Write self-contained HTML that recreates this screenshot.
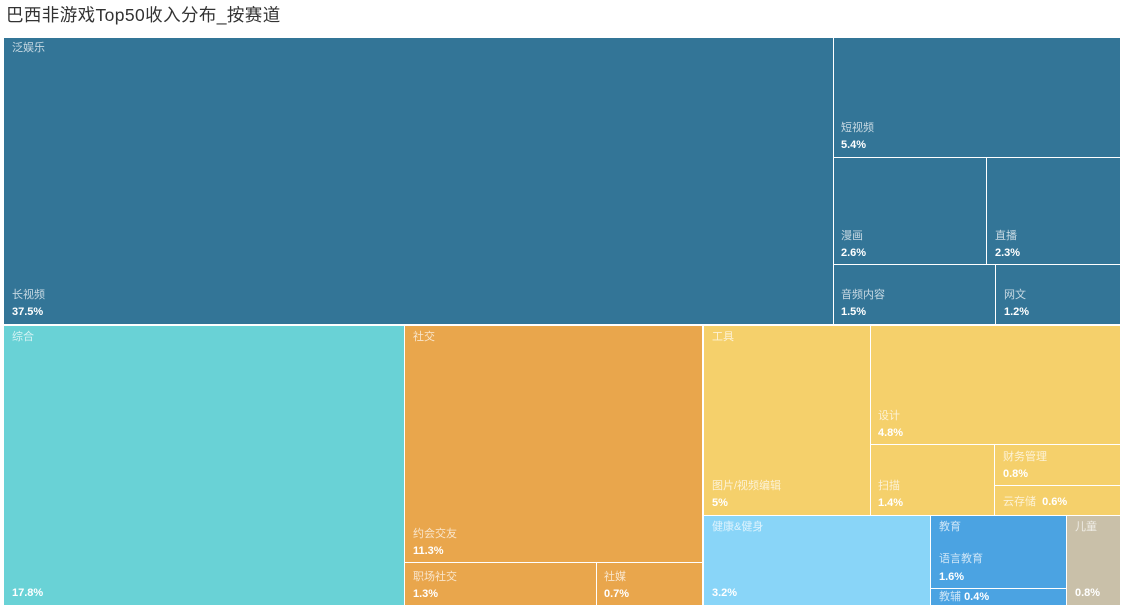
<!DOCTYPE html>
<html>
<head>
<meta charset="utf-8">
<style>
html,body{margin:0;padding:0;background:#fff;}
body{width:1125px;height:609px;position:relative;overflow:hidden;font-family:"Liberation Sans","Noto Sans CJK SC",sans-serif;}
.title{position:absolute;left:6px;top:4px;font-size:17.5px;line-height:22px;color:#333;letter-spacing:0.4px;}
.r{position:absolute;box-sizing:border-box;}
.t{position:absolute;font-size:11px;line-height:14px;white-space:nowrap;}
.n{color:rgba(255,255,255,0.72);}
.v{color:#fff;font-weight:bold;}
.g{color:rgba(255,255,255,0.72);}
</style>
</head>
<body>
<div class="title">巴西非游戏Top50收入分布_按赛道</div>

<!-- 泛娱乐 -->
<div class="r" style="left:4px;top:38px;width:829px;height:286px;background:#337597;"></div>
<div class="r" style="left:834px;top:38px;width:286px;height:119px;background:#337597;"></div>
<div class="r" style="left:834px;top:158px;width:152px;height:106px;background:#337597;"></div>
<div class="r" style="left:987px;top:158px;width:133px;height:106px;background:#337597;"></div>
<div class="r" style="left:834px;top:265px;width:161px;height:59px;background:#337597;"></div>
<div class="r" style="left:996px;top:265px;width:124px;height:59px;background:#337597;"></div>

<!-- 综合 -->
<div class="r" style="left:4px;top:326px;width:400px;height:279px;background:#69d2d6;"></div>

<!-- 社交 -->
<div class="r" style="left:405px;top:326px;width:297px;height:236px;background:#e9a64c;"></div>
<div class="r" style="left:405px;top:563px;width:191px;height:42px;background:#e9a64c;"></div>
<div class="r" style="left:597px;top:563px;width:105px;height:42px;background:#e9a64c;"></div>

<!-- 工具 -->
<div class="r" style="left:704px;top:326px;width:166px;height:189px;background:#f5d06b;"></div>
<div class="r" style="left:871px;top:326px;width:249px;height:118px;background:#f5d06b;"></div>
<div class="r" style="left:871px;top:445px;width:123px;height:70px;background:#f5d06b;"></div>
<div class="r" style="left:995px;top:445px;width:125px;height:40px;background:#f5d06b;"></div>
<div class="r" style="left:995px;top:486px;width:125px;height:29px;background:#f5d06b;"></div>

<!-- 健康&健身 -->
<div class="r" style="left:704px;top:516px;width:226px;height:89px;background:#89d5f8;"></div>
<!-- 教育 -->
<div class="r" style="left:931px;top:516px;width:135px;height:72px;background:#4ba3e2;"></div>
<div class="r" style="left:931px;top:589px;width:135px;height:16px;background:#4ba3e2;"></div>
<!-- 儿童 -->
<div class="r" style="left:1067px;top:516px;width:53px;height:89px;background:#c9c0a9;"></div>

<!-- labels -->
<div class="t g" style="left:12px;top:41px;">泛娱乐</div>
<div class="t n" style="left:12px;top:288px;">长视频</div>
<div class="t v" style="left:12px;top:305px;">37.5%</div>

<div class="t n" style="left:841px;top:121px;">短视频</div>
<div class="t v" style="left:841px;top:138px;">5.4%</div>
<div class="t n" style="left:841px;top:229px;">漫画</div>
<div class="t v" style="left:841px;top:246px;">2.6%</div>
<div class="t n" style="left:995px;top:229px;">直播</div>
<div class="t v" style="left:995px;top:246px;">2.3%</div>
<div class="t n" style="left:841px;top:288px;">音频内容</div>
<div class="t v" style="left:841px;top:305px;">1.5%</div>
<div class="t n" style="left:1004px;top:288px;">网文</div>
<div class="t v" style="left:1004px;top:305px;">1.2%</div>

<div class="t g" style="left:12px;top:330px;">综合</div>
<div class="t v" style="left:12px;top:586px;">17.8%</div>

<div class="t g" style="left:413px;top:330px;">社交</div>
<div class="t n" style="left:413px;top:527px;">约会交友</div>
<div class="t v" style="left:413px;top:544px;">11.3%</div>
<div class="t n" style="left:413px;top:570px;">职场社交</div>
<div class="t v" style="left:413px;top:587px;">1.3%</div>
<div class="t n" style="left:604px;top:570px;">社媒</div>
<div class="t v" style="left:604px;top:587px;">0.7%</div>

<div class="t g" style="left:712px;top:330px;">工具</div>
<div class="t n" style="left:712px;top:479px;">图片/视频编辑</div>
<div class="t v" style="left:712px;top:496px;">5%</div>
<div class="t n" style="left:878px;top:409px;">设计</div>
<div class="t v" style="left:878px;top:426px;">4.8%</div>
<div class="t n" style="left:878px;top:479px;">扫描</div>
<div class="t v" style="left:878px;top:496px;">1.4%</div>
<div class="t n" style="left:1003px;top:450px;">财务管理</div>
<div class="t v" style="left:1003px;top:467px;">0.8%</div>
<div class="t n" style="left:1003px;top:495px;">云存储 <span class="v">&nbsp;0.6%</span></div>

<div class="t g" style="left:712px;top:520px;">健康&amp;健身</div>
<div class="t v" style="left:712px;top:586px;">3.2%</div>

<div class="t g" style="left:939px;top:520px;">教育</div>
<div class="t n" style="left:939px;top:552px;">语言教育</div>
<div class="t v" style="left:939px;top:570px;">1.6%</div>
<div class="t n" style="left:939px;top:590px;">教辅 <span class="v">0.4%</span></div>

<div class="t g" style="left:1075px;top:520px;">儿童</div>
<div class="t v" style="left:1075px;top:586px;">0.8%</div>
</body>
</html>
